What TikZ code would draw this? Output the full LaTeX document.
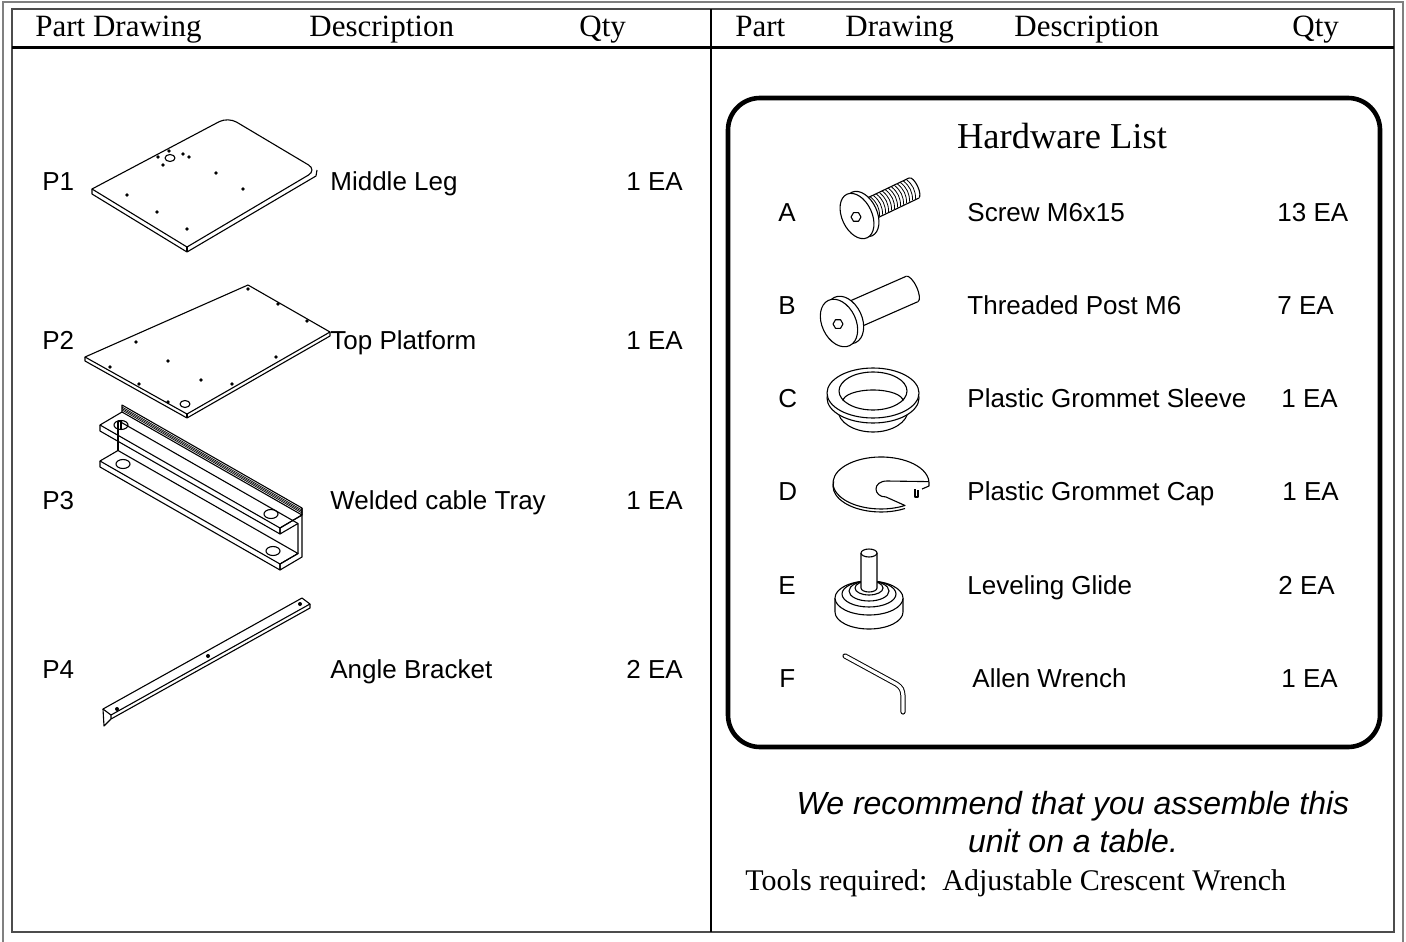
\documentclass[tikz,border=0pt]{standalone}
\usepackage{fontspec}
\setmainfont{Liberation Serif}
\setsansfont{Liberation Sans}
\usetikzlibrary{positioning}
\tikzstyle{hdr} = [inner sep=0pt, anchor=base west, font=\fontsize{15.5}{18}\selectfont]
\tikzstyle{lbl} = [inner sep=0pt, anchor=base west, font=\sffamily\fontsize{13}{15}\selectfont]
\tikzstyle{part} = [line width=0.55pt, line join=round]
\tikzstyle{hole} = [fill=black]

\begin{document}
\begin{tikzpicture}[x=0.5pt, y=-0.5pt]
  \useasboundingbox (0,0) rectangle (1406,941);
  % frame
  \draw[gray, line width=1pt] (3,2) rectangle (1403,960);
  \draw[black!70, line width=1pt] (12,9) rectangle (1394,932);
  \draw[line width=1.5pt] (12,48) -- (1394,48);
  \draw[line width=1.4pt] (711,9) -- (711,932);

  % header
  \node[hdr] (hpl) at (35,37) {Part Drawing};
  \node[hdr] (hdl) at (309,37) {Description};
  \node[hdr] (hql) at (579,37) {Qty};
  \node[hdr] (hpr) at (735,37) {Part};
  \node[hdr] (hwr) at (845,37) {Drawing};
  \node[hdr] (hdr) at (1014,37) {Description};
  \node[hdr] (hqr) at (1292,37) {Qty};

  % parts
  \node[lbl] (p1) at (42,190.5) {P1};
  \node[lbl] (d1) at (330,190.5) {Middle Leg};
  \node[lbl] (q1) at (626,190.5) {1 EA};
  \node[lbl] (p2) at (42,349.5) {P2};
  \node[lbl] (d2) at (330,349.5) {Top Platform};
  \node[lbl] (q2) at (626,349.5) {1 EA};
  \node[lbl] (p3) at (42,509.5) {P3};
  \node[lbl] (d3) at (330,509.5) {Welded cable Tray};
  \node[lbl] (q3) at (626,509.5) {1 EA};
  \node[lbl] (p4) at (42,678.5) {P4};
  \node[lbl] (d4) at (330,678.5) {Angle Bracket};
  \node[lbl] (q4) at (626,678.5) {2 EA};

  % P1
  \draw[part] (92,189) [rounded corners=5pt] -- (228,117) -- (317,170) [sharp corners] -- (187,247) -- cycle;
  \draw[part] (92,189) -- (92,194) -- (187,252) -- (316,176) -- (317,170);
  \draw[part] (187,247) -- (187,252);
  \foreach \p in {(169,151),(158,157),(183,154),(189,157),(163,165),(216,173),(243,189),(127,195),(157,212),(187,229)}
    \fill[hole] \p circle[radius=1.8];
  \draw[part] (170,158) ellipse[x radius=5, y radius=3.5];

  % P2
  \draw[part] (85,357) -- (248,285) -- (330,332) -- (187,414) -- cycle;
  \draw[part] (85,357) -- (85,361) -- (187,418) -- (330,336) -- (330,332);
  \draw[part] (187,414) -- (187,418);
  \foreach \p in {(248,289),(278,304),(307,321),(136,342),(168,361),(276,357),(110,367),(139,384),(201,380),(232,384),(168,402)}
    \fill[hole] \p circle[radius=1.8];
  \draw[part] (185,404) ellipse[x radius=5, y radius=3.5];

  % P3
  \draw[part] (122,412) -- (122,405) -- (302,508) -- (302,515);
  \foreach \k in {2,3.5,5}
    \draw[line width=0.35pt] (122,{412-\k}) -- (302,{515-\k});
  \draw[part] (122,412) -- (100,425) -- (280,528) -- (302,515) -- cycle;
  \draw[part] (100,425) -- (100,431) -- (280,534) -- (280,528);
  \draw[part] (118,420.5) -- (298,523.5);
  \draw[part] (118,420.5) -- (118,450.5);
  \draw[part] (118,450.5) -- (100,461) -- (280,564) -- (298,553.5) -- cycle;
  \draw[part] (100,461) -- (100,467) -- (280,570) -- (280,564);
  \draw[part] (302,508) -- (302,557) -- (280,570) -- (280,564) -- (298,553.5) -- (298,523.5) -- (280,534) -- (280,528) -- (302,515);
  \draw[part] (121,425) ellipse[x radius=7, y radius=4.5];
  \draw[part] (121,421) -- (121,429);
  \draw[part] (271,514) ellipse[x radius=7, y radius=4.5];
  \draw[part] (123,464) ellipse[x radius=7, y radius=4.5];
  \draw[part] (273,551) ellipse[x radius=7, y radius=4.5];

  % P4
  \draw[part] (103,709) -- (302,598) -- (310,604) -- (111,715) -- cycle;
  \draw[part] (111,715) -- (111,719) -- (310,608) -- (310,604);
  \draw[part] (103,709) -- (104,726) -- (111,719);
  \foreach \p in {(300,604),(208,656),(117,709)}
    \fill[hole] \p circle[radius=2];

  % hardware
  \draw[line width=2.3pt, rounded corners=16pt] (728,98) rectangle (1380,747);
  \node[font=\fontsize{18.25}{22}\selectfont, inner sep=0pt, anchor=base] (hw) at (1062,149) {Hardware List};
  \node[lbl] (ha) at (778,221.5) {A};
  \node[lbl] (da) at (967,221.5) {Screw M6x15};
  \node[lbl] (qa) at (1277,221.5) {13 EA};
  \node[lbl] (hb) at (778,314.5) {B};
  \node[lbl] (db) at (967,314.5) {Threaded Post M6};
  \node[lbl] (qb) at (1277,314.5) {7 EA};
  \node[lbl] (hc) at (778,407.5) {C};
  \node[lbl] (dc) at (967,407.5) {Plastic Grommet Sleeve};
  \node[lbl] (qc) at (1281,407.5) {1 EA};
  \node[lbl] (hd) at (778,500.5) {D};
  \node[lbl] (dd) at (967,500.5) {Plastic Grommet Cap};
  \node[lbl] (qd) at (1282,500.5) {1 EA};
  \node[lbl] (he) at (778,594.5) {E};
  \node[lbl] (de) at (967,594.5) {Leveling Glide};
  \node[lbl] (qe) at (1278,594.5) {2 EA};
  \node[lbl] (hf) at (779,687.5) {F};
  \node[lbl] (df) at (972,687.5) {Allen Wrench};
  \node[lbl] (qf) at (1281,687.5) {1 EA};

  % A
  \draw[part, rotate around={25:(914,188)}] (914,188) ellipse[x radius=4, y radius=11];
  \fill[white] (861,201) -- (909,178) -- (919,198) -- (871,221) -- cycle;
  \draw[part] (861,201) -- (909,178);
  \draw[part] (871,221) -- (919,198);
  \foreach \t in {0,...,13}
    \draw[line width=0.4pt] ({872+3*\t-4.6},{208-1.45*\t-9.6}) to[bend left=25] ({872+3*\t+4.6},{208-1.45*\t+9.6});
  \draw[part, fill=white, rotate around={25:(862,214)}] (862,214) ellipse[x radius=15, y radius=24];
  \draw[part, fill=white, rotate around={25:(857,216)}] (857,216) ellipse[x radius=15, y radius=24];
  \draw[part] (861,217) -- (858.5,212.7) -- (853.5,212.7) -- (851,217) -- (853.5,221.3) -- (858.5,221.3) -- cycle;

  % B
  \draw[part, rotate around={25:(912,289)}] (912,289) ellipse[x radius=5, y radius=14];
  \fill[white] (840.4,305.2) -- (906.4,276.2) -- (917.6,301.8) -- (851.6,330.8) -- cycle;
  \draw[part] (840.4,305.2) -- (906.4,276.2);
  \draw[part] (851.6,330.8) -- (917.6,301.8);
  \draw[part, fill=white, rotate around={25:(845,320)}] (845,320) ellipse[x radius=17, y radius=25];
  \draw[part, fill=white, rotate around={25:(839,323)}] (839,323) ellipse[x radius=17, y radius=25];
  \draw[part] (843,324) -- (840.5,319.7) -- (835.5,319.7) -- (833,324) -- (835.5,328.3) -- (840.5,328.3) -- cycle;

  % C
  \draw[part] (838,410) arc[start angle=180, end angle=0, x radius=35, y radius=22];
  \draw[part, fill=white] (873,398) ellipse[x radius=46, y radius=25];
  \draw[part, fill=white] (873,393) ellipse[x radius=46, y radius=25];
  \draw[part] (873,391) ellipse[x radius=34, y radius=19];
  \draw[part] (843,401) arc[start angle=180, end angle=360, x radius=30, y radius=11];

  % D
  \draw[part] (905,505.5) arc[start angle=60, end angle=357, x radius=48, y radius=26]
    -- (887,481) .. controls (872,481) and (873,497) .. (886,497) -- cycle;
  \draw[part] (905,508.5) arc[start angle=60, end angle=190, x radius=48, y radius=26];
  \draw[part] (929,482) -- (929,486) -- (922,489);
  \draw[part] (915,489) -- (915,497) -- (918,497) -- (918,490);

  % E
  \draw[part] (835,598) -- (835,612) arc[start angle=180, end angle=0, x radius=34, y radius=17] -- (903,598);
  \draw[part, fill=white] (869,598) ellipse[x radius=34, y radius=17];
  \draw[part] (869,594) ellipse[x radius=27, y radius=13];
  \draw[part] (869,591) ellipse[x radius=20, y radius=10];
  \draw[part] (869,588) ellipse[x radius=14, y radius=7];
  \draw[part, fill=white] (861,553) -- (861,588) arc[start angle=180, end angle=0, x radius=8, y radius=4] -- (877,553);
  \draw[part, fill=white] (869,553) ellipse[x radius=8, y radius=4];

  % F
  \draw[line width=0.5pt, double=white, double distance=1.6pt, line cap=round, rounded corners=2pt] (845,656) -- (900,686) -- (903,692) -- (903,712);

  % notes
  \node[font=\sffamily\itshape\fontsize{16}{19}\selectfont, align=center] (rec) at (1073,822) {We recommend that you assemble this\\unit on a table.};
  \node[hdr, font=\fontsize{15}{18}\selectfont] (tools) at (745,890) {Tools required:\ \ Adjustable Crescent Wrench};
\end{tikzpicture}
\end{document}
